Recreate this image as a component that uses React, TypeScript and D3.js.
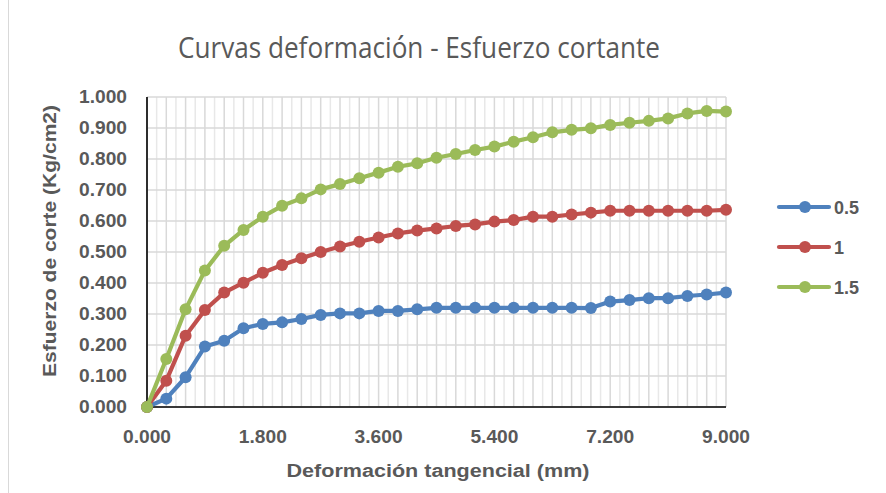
import React from "react";
import * as d3 from "d3";

const xValues = [0, 0.3, 0.6, 0.9, 1.2, 1.5, 1.8, 2.1, 2.4, 2.7, 3.0, 3.3, 3.6, 3.9, 4.2, 4.5, 4.8, 5.1, 5.4, 5.7, 6.0, 6.3, 6.6, 6.9, 7.2, 7.5, 7.8, 8.1, 8.4, 8.7, 9.0];
const series05 = [0, 0.027, 0.096, 0.195, 0.214, 0.254, 0.268, 0.273, 0.284, 0.297, 0.302, 0.302, 0.31, 0.31, 0.315, 0.32, 0.32, 0.32, 0.32, 0.32, 0.32, 0.32, 0.32, 0.319, 0.34, 0.345, 0.351, 0.351, 0.358, 0.363, 0.369];
const series1 = [0, 0.085, 0.23, 0.313, 0.369, 0.401, 0.433, 0.458, 0.48, 0.5, 0.518, 0.533, 0.547, 0.56, 0.569, 0.576, 0.584, 0.589, 0.598, 0.603, 0.614, 0.614, 0.621, 0.627, 0.633, 0.633, 0.633, 0.633, 0.633, 0.633, 0.636];
const series15 = [0, 0.155, 0.315, 0.44, 0.52, 0.571, 0.614, 0.649, 0.673, 0.702, 0.719, 0.738, 0.756, 0.775, 0.786, 0.804, 0.816, 0.829, 0.84, 0.856, 0.87, 0.886, 0.894, 0.899, 0.91, 0.917, 0.923, 0.931, 0.947, 0.955, 0.953];
const seriesNames = ["0.5", "1", "1.5"];
const seriesColors = ["#4F81BD", "#C0504D", "#9BBB59"];
const xTicks = [0, 1.8, 3.6, 5.4, 7.2, 9.0];
const yTicks = [0, 0.1, 0.2, 0.3, 0.4, 0.5, 0.6, 0.7, 0.8, 0.9, 1.0];
const title = "Curvas deformación - Esfuerzo cortante";
const xTitle = "Deformación tangencial (mm)";
const yTitle = "Esfuerzo de corte (Kg/cm2)";

export default function App() {
  const left = 147, right = 726, top = 97, bottom = 407;
  const x = d3.scaleLinear().domain([0, 9]).range([left, right]);
  const y = d3.scaleLinear().domain([0, 1]).range([bottom, top]);
  const allSeries = [series05, series1, series15];
  const line = d3.line<number>().x((_, i) => x(xValues[i])).y((d) => y(d));
  const minor = d3.range(0, 61).map((i) => i * 0.15);
  const font = "'Liberation Sans', Arial, sans-serif";
  const titleFont = "'Open Sans', 'Noto Sans', sans-serif";
  const gray = "#595959";
  return (
    <svg width={886} height={493} style={{ position: "absolute", left: 0, top: 0, background: "#fff" }}>
      <rect x={0} y={0} width={886} height={493} fill="#fff" />
      <line x1={8.5} x2={8.5} y1={0} y2={493} stroke="#d9d9d9" />
      <text x={419} y={58} textAnchor="middle" fontFamily={titleFont} fontSize={29} fill={gray} textLength={482} lengthAdjust="spacingAndGlyphs">{title}</text>
      {minor.map((v, i) => (
        <line key={"v" + i} x1={x(v)} x2={x(v)} y1={top} y2={bottom} stroke={i % 2 === 0 ? "#d9d9d9" : "#e8e8e8"} strokeWidth={1.5} />
      ))}
      {yTicks.map((v, i) => (
        <line key={"h" + i} x1={left} x2={right} y1={y(v)} y2={y(v)} stroke="#d9d9d9" strokeWidth={1.5} />
      ))}
      <line x1={left} x2={left} y1={top} y2={bottom} stroke="#000" strokeWidth={1.6} />
      <line x1={left} x2={right} y1={bottom} y2={bottom} stroke="#000" strokeWidth={1.6} />
      {yTicks.map((v, i) => (
        <text key={"yt" + i} x={127} y={y(v) + 6} textAnchor="end" fontFamily={font} fontWeight="bold" fontSize={17.5} fill={gray} textLength={48} lengthAdjust="spacingAndGlyphs">{v.toFixed(3)}</text>
      ))}
      {xTicks.map((v, i) => (
        <text key={"xt" + i} x={x(v)} y={443} textAnchor="middle" fontFamily={font} fontWeight="bold" fontSize={17.5} fill={gray} textLength={48} lengthAdjust="spacingAndGlyphs">{v.toFixed(3)}</text>
      ))}
      <text x={438} y={477} textAnchor="middle" fontFamily={font} fontWeight="bold" fontSize={18} fill={gray} textLength={303} lengthAdjust="spacingAndGlyphs">{xTitle}</text>
      <text transform={`translate(56,241) rotate(-90)`} textAnchor="middle" fontFamily={font} fontWeight="bold" fontSize={18} fill={gray} textLength={272} lengthAdjust="spacingAndGlyphs">{yTitle}</text>
      {allSeries.map((s, si) => (
        <g key={"s" + si}>
          <path d={line(s) || ""} fill="none" stroke={seriesColors[si]} strokeWidth={4.2} strokeLinejoin="round" />
          {s.map((v, i) => (
            <circle key={i} cx={x(xValues[i])} cy={y(v)} r={6} fill={seriesColors[si]} />
          ))}
        </g>
      ))}
      {seriesNames.map((n, i) => (
        <g key={"l" + i}>
          <line x1={779} x2={829} y1={207 + i * 40} y2={207 + i * 40} stroke={seriesColors[i]} strokeWidth={4.2} strokeLinecap="round" />
          <circle cx={805} cy={207 + i * 40} r={6} fill={seriesColors[i]} />
          <text x={834} y={214 + i * 40} fontFamily={font} fontWeight="bold" fontSize={18} fill={gray}>{n}</text>
        </g>
      ))}
    </svg>
  );
}
